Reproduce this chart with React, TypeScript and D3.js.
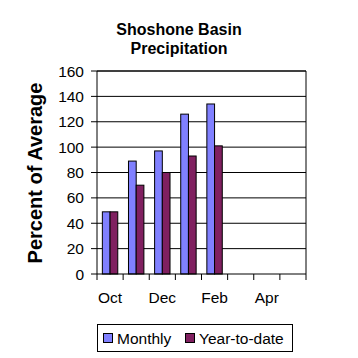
import React from "react";
import * as d3 from "d3";

const categories = ["Oct", "Nov", "Dec", "Jan", "Feb", "Mar", "Apr", "May"];
const monthly = [49, 89, 97, 126, 134, null, null, null];
const ytd = [49, 70, 80, 93, 101, null, null, null];
const yTicks = [0, 20, 40, 60, 80, 100, 120, 140, 160];
const seriesNames = ["Monthly", "Year-to-date"];
const colors = ["#8080FF", "#802060"];

export default function App() {
  const left = 97, right = 306, top = 71, bottom = 274;
  const x = d3.scaleBand<string>().domain(categories).range([left, right]);
  const y = d3.scaleLinear().domain([0, 160]).range([bottom, top]);
  const bw = x.bandwidth();
  const barW = bw * 0.295;
  const font = "Arial, 'Liberation Sans', sans-serif";
  const series = [monthly, ytd];
  return (
    <svg width={358} height={358} style={{ position: "absolute", left: 0, top: 0 }}>
      <rect width={358} height={358} fill="#fff" />
      <text x={179} y={35} textAnchor="middle" fontFamily={font} fontWeight="bold" fontSize={16}>Shoshone Basin</text>
      <text x={179} y={54} textAnchor="middle" fontFamily={font} fontWeight="bold" fontSize={16}>Precipitation</text>
      {yTicks.map((t) => (
        <g key={t}>
          {t > 0 && <line x1={left} x2={right} y1={y(t)} y2={y(t)} stroke="#000" strokeWidth={1} />}
          <line x1={left - 6} x2={left} y1={y(t)} y2={y(t)} stroke="#000" />
          <text x={84} y={y(t) + 5.5} textAnchor="end" fontFamily={font} fontSize={15.5}>{t}</text>
        </g>
      ))}
      {series.map((s, si) =>
        s.map((v, i) =>
          v == null ? null : (
            <rect key={si + "-" + i}
              x={(x(categories[i]) as number) + bw / 2 - barW + si * barW}
              y={y(v)} width={barW} height={bottom - y(v)}
              fill={colors[si]} stroke="#000" strokeWidth={1} />
          )
        )
      )}
      <line x1={left} x2={left} y1={top} y2={bottom} stroke="#000" />
      <line x1={right} x2={right} y1={top} y2={bottom} stroke="#000" />
      <line x1={left} x2={right} y1={top} y2={top} stroke="#000" />
      <line x1={left} x2={right} y1={bottom} y2={bottom} stroke="#000" />
      {categories.map((c) => (
        <line key={c} x1={x(c) as number} x2={x(c) as number} y1={bottom} y2={bottom + 6} stroke="#000" />
      ))}
      <line x1={right} x2={right} y1={bottom} y2={bottom + 6} stroke="#000" />
      {categories.map((c, i) =>
        i % 2 === 0 ? (
          <text key={c} x={(x(c) as number) + bw / 2} y={303} textAnchor="middle" fontFamily={font} fontSize={15.5}>{c}</text>
        ) : null
      )}
      <text transform={`translate(42,173) rotate(-90)`} textAnchor="middle" fontFamily={font} fontWeight="bold" fontSize={20}>Percent of Average</text>
      <rect x={97.5} y={324.5} width={195} height={27} fill="none" stroke="#000" />
      <rect x={103.5} y={333.5} width={9} height={9} fill={colors[0]} stroke="#000" />
      <text x={117} y={344} fontFamily={font} fontSize={15.5}>{seriesNames[0]}</text>
      <rect x={185.5} y={333.5} width={9} height={9} fill={colors[1]} stroke="#000" />
      <text x={199} y={344} fontFamily={font} fontSize={15.5}>{seriesNames[1]}</text>
    </svg>
  );
}
